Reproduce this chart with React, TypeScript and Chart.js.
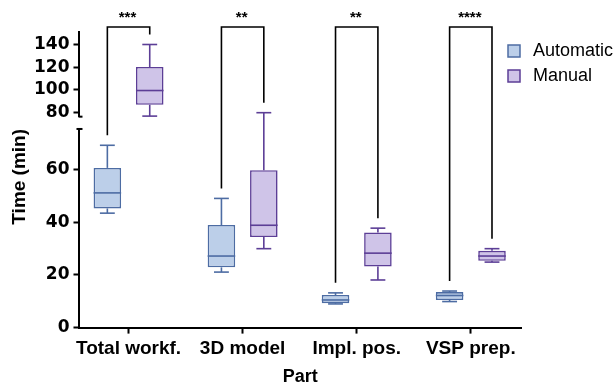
import React, { useEffect, useRef } from 'react';
import { Chart, registerables } from 'chart.js';

Chart.register(...registerables);

const categories = ['Total workf.', '3D model', 'Impl. pos.', 'VSP prep.'];
const seriesNames = ['Automatic', 'Manual'];

const automaticMin = [43.5, 21.1, 9.0, 9.9];
const automaticQ1 = [45.3, 22.9, 9.3, 10.5];
const automaticMedian = [51.2, 27.2, 10.5, 12.2];
const automaticQ3 = [60.7, 39.0, 12.4, 13.5];
const automaticMax = [69.3, 49.1, 13.2, 13.9];

const manualMin = [77, 30, 18.1, 24.9];
const manualQ1 = [87, 34.4, 23.2, 25.4];
const manualMedian = [99.5, 38.9, 28.3, 27.2];
const manualQ3 = [120.2, 59.8, 36.1, 29.2];
const manualMax = [140, 80, 37.8, 30];

const significance = ['***', '**', '**', '****'];

const lowerTicks = [0, 20, 40, 60];
const upperTicks = [80, 100, 120, 140];
const lowerRange = [0, 75.5];
const upperRange = [76.5, 151];

const autoFill = '#bccfe9';
const autoBorder = '#4d6ca3';
const manFill = '#cfc4e8';
const manBorder = '#5c3e96';

export default function App() {
  const ref = useRef<HTMLCanvasElement>(null);

  useEffect(() => {
    const canvas = ref.current;
    if (!canvas) return;
    const lowMax = lowerRange[1];

    const stats: any = {
      automatic: { min: automaticMin, q1: automaticQ1, med: automaticMedian, q3: automaticQ3, max: automaticMax },
      manual: { min: manualMin, q1: manualQ1, med: manualMedian, q3: manualQ3, max: manualMax },
    };

    const boxPlugin = {
      id: 'boxExtras',
      afterDatasetsDraw(chart: any) {
        const { ctx, chartArea } = chart;
        const yLow = chart.scales.yLow;
        const yHigh = chart.scales.yHigh;
        const yPix = (v: number) => (v > lowMax ? yHigh.getPixelForValue(v) : yLow.getPixelForValue(v));
        const line = (x1: number, y1: number, x2: number, y2: number) => {
          ctx.beginPath();
          ctx.moveTo(x1, y1);
          ctx.lineTo(x2, y2);
          ctx.stroke();
        };
        const centers: any = { automatic: [], manual: [] };
        chart.data.datasets.forEach((ds: any, d: number) => {
          const meta = chart.getDatasetMeta(d);
          const st = stats[ds.statKey];
          meta.data.forEach((el: any, i: number) => {
            const raw = ds.data[i];
            if (!raw || raw.y == null) return;
            const x = el.x;
            const w = el.width;
            centers[ds.statKey][i] = x;
            ctx.save();
            ctx.strokeStyle = ds.borderColor;
            ctx.lineWidth = 1.6;
            line(x, yPix(st.q3[i]), x, yPix(st.max[i]));
            line(x, yPix(st.q1[i]), x, yPix(st.min[i]));
            const cw = w * 0.27;
            line(x - cw, yPix(st.max[i]), x + cw, yPix(st.max[i]));
            line(x - cw, yPix(st.min[i]), x + cw, yPix(st.min[i]));
            line(x - w / 2, yPix(st.med[i]), x + w / 2, yPix(st.med[i]));
            ctx.restore();
          });
        });

        // significance brackets
        ctx.save();
        ctx.strokeStyle = '#000';
        ctx.lineWidth = 1.6;
        ctx.fillStyle = '#000';
        ctx.font = 'bold 15px "Liberation Sans", Arial, sans-serif';
        ctx.textAlign = 'center';
        ctx.textBaseline = 'middle';
        const topY = chartArea.top - 5;
        categories.forEach((_, i) => {
          const lx = centers.automatic[i];
          const rx = centers.manual[i];
          if (lx == null || rx == null) return;
          const lb = yPix(automaticMax[i]) - 10;
          const rb = yPix(manualMax[i]) - 10;
          ctx.beginPath();
          ctx.moveTo(lx, lb);
          ctx.lineTo(lx, topY);
          ctx.lineTo(rx, topY);
          ctx.lineTo(rx, rb);
          ctx.stroke();
          ctx.fillText(significance[i], (lx + rx) / 2 - 1, topY - 9);
        });
        ctx.restore();

        // axis break caps
        ctx.save();
        ctx.strokeStyle = '#000';
        ctx.lineWidth = 2;
        const ax = chartArea.left;
        line(ax - 3, yLow.top, ax + 3, yLow.top);
        line(ax - 1, yHigh.bottom, ax + 3, yHigh.bottom);
        ctx.restore();

        // y title
        ctx.save();
        ctx.fillStyle = '#000';
        ctx.font = 'bold 19px "Liberation Sans", Arial, sans-serif';
        ctx.textAlign = 'center';
        ctx.textBaseline = 'middle';
        ctx.translate(20, (chartArea.top + chartArea.bottom) / 2 - 3);
        ctx.rotate(-Math.PI / 2);
        ctx.fillText('Time (min)', 0, 0);
        ctx.restore();

        // legend
        ctx.save();
        const fills = [autoFill, manFill];
        const borders = [autoBorder, manBorder];
        const lx0 = chartArea.right - 13;
        seriesNames.forEach((name, k) => {
          const y = chartArea.top + 13 + k * 25;
          ctx.fillStyle = fills[k];
          ctx.fillRect(lx0, y, 12, 12);
          ctx.strokeStyle = borders[k];
          ctx.lineWidth = 1.5;
          ctx.strokeRect(lx0, y, 12, 12);
          ctx.fillStyle = '#000';
          ctx.font = '18px "Liberation Sans", Arial, sans-serif';
          ctx.textAlign = 'left';
          ctx.textBaseline = 'middle';
          ctx.fillText(name, lx0 + 25, y + 6.5);
        });
        ctx.restore();
      },
    };

    const tickFont = { family: '"DejaVu Sans", sans-serif', size: 17, weight: 'bold' as const };
    const yGrid = { drawOnChartArea: false, drawTicks: true, tickLength: 6, tickWidth: 2, tickColor: '#000' };
    const yBorder = { display: true, color: '#000', width: 2 };
    const barCommon = {
      borderWidth: 1.6,
      borderSkipped: false,
      skipNull: true,
      categoryPercentage: 0.743,
      barPercentage: 0.65,
    };

    const chart = new Chart(canvas, {
      type: 'bar',
      data: {
        datasets: [
          {
            label: seriesNames[0],
            statKey: 'automatic',
            yAxisID: 'yLow',
            data: categories.map((_, i) => ({ x: i, y: [automaticQ1[i], automaticQ3[i]] })),
            backgroundColor: autoFill,
            borderColor: autoBorder,
            ...barCommon,
          } as any,
          {
            label: seriesNames[1],
            statKey: 'manual',
            yAxisID: 'yLow',
            data: categories.map((_, i) => ({ x: i, y: manualQ3[i] <= lowMax ? [manualQ1[i], manualQ3[i]] : null })),
            backgroundColor: manFill,
            borderColor: manBorder,
            ...barCommon,
          } as any,
          {
            label: seriesNames[1] + ' (upper)',
            statKey: 'manual',
            yAxisID: 'yHigh',
            data: categories.map((_, i) => ({ x: i, y: manualQ1[i] > lowMax ? [manualQ1[i], manualQ3[i]] : null })),
            backgroundColor: manFill,
            borderColor: manBorder,
            ...barCommon,
          } as any,
        ],
      },
      options: {
        responsive: false,
        animation: false,
        layout: { padding: { left: 30, right: 95, top: 32, bottom: -5 } },
        plugins: { legend: { display: false }, tooltip: { enabled: false } },
        scales: {
          x: {
            type: 'linear',
            offset: false,
            min: -0.43,
            max: 3.44,
            afterBuildTicks: (s: any) => {
              s.ticks = categories.map((_, i) => ({ value: i }));
            },
            ticks: {
              callback: (v: any) => categories[v] ?? '',
              font: { family: '"Liberation Sans", Arial, sans-serif', size: 19, weight: 'bold' },
              color: '#000',
              padding: 4,
              maxRotation: 0,
              autoSkip: false,
            },
            grid: { offset: false, drawOnChartArea: false, drawTicks: true, tickLength: 6, tickWidth: 2, tickColor: '#000' },
            border: { display: true, color: '#000', width: 2 },
            title: {
              display: true,
              text: 'Part',
              color: '#000',
              font: { family: '"Liberation Sans", Arial, sans-serif', size: 18, weight: 'bold' },
              padding: { top: 2, bottom: 0 },
            },
          },
          yLow: {
            type: 'linear',
            position: 'left',
            stack: 'y',
            stackWeight: 198.7,
            min: lowerRange[0],
            max: lowerRange[1],
            afterBuildTicks: (s: any) => {
              s.ticks = lowerTicks.map((v) => ({ value: v }));
            },
            ticks: { font: tickFont, color: '#000', padding: 4, autoSkip: false },
            grid: yGrid,
            border: yBorder,
          },
          yGap: {
            type: 'linear',
            position: 'left',
            stack: 'y',
            stackWeight: 12.3,
            grid: { display: false },
            border: { display: false },
            ticks: { display: false },
          },
          yHigh: {
            type: 'linear',
            position: 'left',
            stack: 'y',
            stackWeight: 84.7,
            min: upperRange[0],
            max: upperRange[1],
            afterBuildTicks: (s: any) => {
              s.ticks = upperTicks.map((v) => ({ value: v }));
            },
            ticks: { font: tickFont, color: '#000', padding: 4, autoSkip: false },
            grid: yGrid,
            border: yBorder,
          },
        } as any,
      },
      plugins: [boxPlugin],
    });
    return () => chart.destroy();
  }, []);

  return (
    <div style={{ position: 'fixed', left: 0, top: 0, width: 616, height: 383, background: '#fff' }}>
      <canvas ref={ref} width={616} height={383} style={{ display: 'block' }} />
    </div>
  );
}
